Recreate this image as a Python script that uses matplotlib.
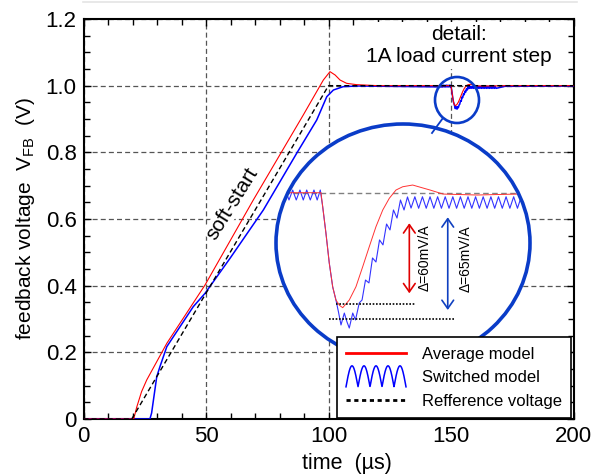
import numpy as np
import matplotlib.pyplot as plt
from matplotlib.patches import Ellipse
from matplotlib.lines import Line2D
from matplotlib.legend_handler import HandlerLine2D

plt.rcParams['font.family'] = ['Liberation Sans', 'DejaVu Sans']
plt.rcParams['mathtext.fontset'] = 'custom'
plt.rcParams['mathtext.rm'] = 'Liberation Sans'

W, H = 598, 476

# ---- data (time in us, voltage in V) ----
# reference voltage ramp
ref_t = [0, 19.7, 100, 200]
ref_v = [0, 0, 1.0, 1.0]

# average model: soft-start part
avg_t = [0, 20.5, 21.7, 23.7, 25.8, 34.0, 49.6, 69.3, 89.7, 97.9, 100.6, 102.7,
         104.7, 107.4, 111.5, 120.0]
avg_v = [0, 0, 0.035, 0.082, 0.117, 0.227, 0.402, 0.657, 0.912, 1.017, 1.042, 1.032,
         1.017, 1.007, 1.003, 1.000]

# switched model: soft-start part
sw_t = [0, 27.1, 27.8, 29.9, 31.2, 34.0, 39.4, 44.8, 49.6, 59.8, 73.4, 87.0,
        95.2, 99.3, 102.0, 106.0, 112.0]
sw_v = [0, 0, 0.018, 0.127, 0.157, 0.217, 0.277, 0.337, 0.377, 0.482, 0.627, 0.797,
        0.897, 0.967, 0.987, 0.997, 0.999]

# average model around the 1A load step
step_avg_t = [146.0, 150.0, 150.15, 150.43, 150.72, 151.02, 151.30, 151.61, 151.89,
              152.46, 153.04, 153.63, 154.20, 154.78, 155.37, 155.94, 156.52, 157.10,
              157.97, 159.48, 160.61, 163.57, 167.04, 168.4]
step_avg_v = [1.0, 1.0, 0.9927, 0.9790, 0.9634, 0.9509, 0.9441, 0.9413, 0.9401,
              0.9441, 0.9510, 0.9615, 0.9719, 0.9823, 0.9910, 0.9971, 1.0014, 1.0031,
              1.0040, 1.0014, 0.9993, 0.9988, 0.9993, 0.9993]

# switched model around the load step (ripple peaks / troughs)
step_sw_t = [146.60, 146.91, 147.22, 147.54, 147.85, 148.17, 148.46, 148.76, 149.07,
             149.39, 149.67, 149.94,
             150.15, 150.43, 150.72, 151.02,
             151.30, 151.52, 151.74, 152.03, 152.26, 152.46, 152.76, 153.00, 153.33,
             153.57, 153.87, 154.17, 154.48, 154.78, 155.09, 155.39, 155.70, 156.00,
             156.30, 156.61, 156.91, 157.22, 157.52, 157.83, 158.16,
             158.49, 158.82, 159.15, 159.48, 159.81, 160.14, 160.47, 160.80, 161.13,
             161.46, 161.79, 162.12, 162.45, 162.78, 163.11, 163.44, 163.77, 164.10,
             164.44, 164.77, 165.10, 165.43, 165.76, 166.09, 166.42, 166.75, 167.08,
             167.41, 167.74, 168.07, 168.40]
step_sw_v = [0.9962, 1.0014, 0.9962, 1.0014, 0.9962, 1.0014, 0.9962, 1.0014, 0.9962,
             1.0014, 0.9962, 1.0014,
             0.9927, 0.9790, 0.9634, 0.9509,
             0.9441, 0.9379, 0.9311, 0.9373, 0.9327, 0.9295, 0.9373, 0.9337, 0.9426,
             0.9441, 0.9545, 0.9530, 0.9660, 0.9639, 0.9754, 0.9728, 0.9837, 0.9806,
             0.9910, 0.9868, 0.9962, 0.9910, 0.9978, 0.9920, 0.9979,
             0.9919, 0.9979, 0.9919, 0.9979, 0.9919, 0.9979, 0.9919, 0.9979, 0.9919,
             0.9979, 0.9919, 0.9979, 0.9919, 0.9979, 0.9919, 0.9979, 0.9919, 0.9979,
             0.9919, 0.9979, 0.9919, 0.9979, 0.9919, 0.9979, 0.9919, 0.9979, 0.9919,
             0.9979, 0.9919, 0.9979, 0.9919]

tail_t = [172.0, 200.0]
avg_tail_v = [1.0, 1.0]
sw_tail_v = [0.998, 0.999]

# measured undershoot levels
dip_avg = 0.942
dip_sw = 0.934

# ---- colours ----
RED = '#ff0000'
BLUE = '#0000ff'
RING = '#0a3cc8'


def fx(px):
    return px / W


def fy(py):
    return 1 - py / H


fig = plt.figure(figsize=(W / 100, H / 100), dpi=100)
ax = fig.add_axes([fx(83.5), fy(419), 490 / W, 400 / H])

ax.plot(sw_t + step_sw_t + tail_t, sw_v + step_sw_v + sw_tail_v,
        color=BLUE, lw=1.1, zorder=3)
ax.plot(avg_t + step_avg_t + tail_t, avg_v + step_avg_v + avg_tail_v,
        color=RED, lw=0.8, zorder=4)
ax.plot(ref_t, ref_v, color='black', lw=1.0, linestyle=(0, (3.6, 2.2)), zorder=5)

ax.set_xlim(0, 200)
ax.set_ylim(0, 1.2)
ax.set_xticks([0, 50, 100, 150, 200])
ax.set_xticks(np.arange(0, 201, 10), minor=True)
ax.set_yticks([0, 0.2, 0.4, 0.6, 0.8, 1.0, 1.2])
ax.set_yticklabels(['0', '0.2', '0.4', '0.6', '0.8', '1.0', '1.2'])
ax.set_yticks(np.arange(0, 1.201, 0.05), minor=True)
ax.tick_params(which='both', direction='in', top=True, right=True, labelsize=16,
               width=1.0, colors='black')
ax.tick_params(axis='y', which='major', pad=5)
ax.tick_params(axis='x', which='major', pad=5)
ax.tick_params(which='major', length=5)
ax.tick_params(which='minor', length=4)
ax.grid(True, which='major', color='#555555', linestyle=(0, (4, 2.5)), lw=0.9)
for s in ax.spines.values():
    s.set_linewidth(1.5)

ax.set_xlabel('time  (µs)', fontsize=15.5, x=0.538, labelpad=4)
ax.set_ylabel(r'feedback voltage  V$_{\mathrm{FB}}$  (V)', fontsize=15, labelpad=6)

ax.text(153.3, 1.1206, 'detail:\n1A load current step', fontsize=15,
        ha='center', va='center', multialignment='center', zorder=2.6,
        bbox=dict(facecolor='white', edgecolor='none', pad=2))
ax.text(60.6, 0.645, 'soft-start', fontsize=15, rotation=58,
        ha='center', va='center', rotation_mode='anchor', zorder=2.6,
        bbox=dict(facecolor='white', edgecolor='none', pad=0.5))

# ---- magnified detail inside the big ring ----
ins = fig.add_axes([fx(276), fy(362), 254 / W, 238 / H])
ins.set_xlim(146.09, 168.17)
ins.set_ylim(0.9118, 1.0358)
ins.axis('off')
ins.patch.set_visible(False)
fill = Ellipse((0.5, 0.5), 1, 1, transform=ins.transAxes, facecolor='white',
               edgecolor='none', zorder=0)
ins.add_patch(fill)
l1, = ins.plot([146.0, 168.4], [1.0, 1.0], color='#808080', lw=1.0,
               linestyle=(0, (4, 2.5)), zorder=1)
l2, = ins.plot(step_sw_t, step_sw_v, color='#3333ff', lw=0.8, zorder=2)
l3, = ins.plot(step_avg_t, step_avg_v, color='#ff3333', lw=0.7, zorder=3)
for ln in (l1, l2, l3):
    ln.set_clip_path(fill)

ins.plot([151.30, 158.26], [dip_avg, dip_avg], color='black', lw=1.2,
         linestyle=(0, (1, 1)), clip_on=False, zorder=4)
ins.plot([150.72, 161.65], [dip_sw, dip_sw], color='black', lw=1.2,
         linestyle=(0, (1, 1)), clip_on=False, zorder=4)

ins.annotate('', xy=(157.68, 0.9476), xytext=(157.68, 0.9841),
             arrowprops=dict(arrowstyle='<->,head_length=0.5,head_width=0.35',
                             color='#e00000', lw=1.2, shrinkA=0, shrinkB=0,
                             mutation_scale=12))
ins.annotate('', xy=(161.02, 0.9389), xytext=(161.02, 0.9872),
             arrowprops=dict(arrowstyle='<->,head_length=0.5,head_width=0.35',
                             color='#1040c0', lw=1.2, shrinkA=0, shrinkB=0,
                             mutation_scale=12))
ins.text(159.04, 0.9663, 'Δ=60mV/A', rotation=90, fontsize=10,
         ha='center', va='center')
ins.text(162.6, 0.9655, 'Δ=65mV/A', rotation=90, fontsize=10,
         ha='center', va='center')

ring = Ellipse((0.5, 0.5), 1, 1, transform=ins.transAxes, facecolor='none',
               edgecolor=RING, lw=2.6, zorder=10, clip_on=False)
ins.add_patch(ring)

# small ring on the load step and connector
fig.add_artist(Ellipse((fx(457), fy(100)), 44 / W, 46 / H, transform=fig.transFigure,
                       facecolor='none', edgecolor=RING, lw=1.9))
fig.add_artist(Line2D([fx(443), fx(432)], [fy(118), fy(133)], color=RING, lw=1.3))
fig.add_artist(Line2D([fx(83), fx(577)], [fy(1.5), fy(1.5)], color='#e4e4e4', lw=1.2))


# ---- legend ----
class RippleHandler(HandlerLine2D):
    def create_artists(self, legend, orig_handle, xdescent, ydescent, width,
                       height, fontsize, trans):
        x = np.linspace(0, width, 300)
        y = height / 2 + 0.9 * height * (2 * np.abs(np.sin(np.pi * 5 * x / width)) - 1)
        ln = Line2D(x - xdescent, y - ydescent, color=BLUE, lw=1.1)
        ln.set_transform(trans)
        return [ln]


h_avg = Line2D([], [], color=RED, lw=2.0)
h_sw = Line2D([], [], color=BLUE, lw=1.1)
h_ref = Line2D([], [], color='black', lw=2.0, linestyle=(0, (1.5, 1.3)))
leg = fig.legend([h_avg, h_sw, h_ref],
                 ['Average model', 'Switched model', 'Refference voltage'],
                 loc='lower right', bbox_to_anchor=(fx(571), fy(418)),
                 fontsize=12, handlelength=3.6, handletextpad=0.95,
                 borderpad=0.55, labelspacing=0.52, borderaxespad=0,
                 fancybox=False, framealpha=1, edgecolor='black',
                 handler_map={h_sw: RippleHandler()})
leg.get_frame().set_linewidth(1.2)

fig.savefig('out.png', dpi=100)
